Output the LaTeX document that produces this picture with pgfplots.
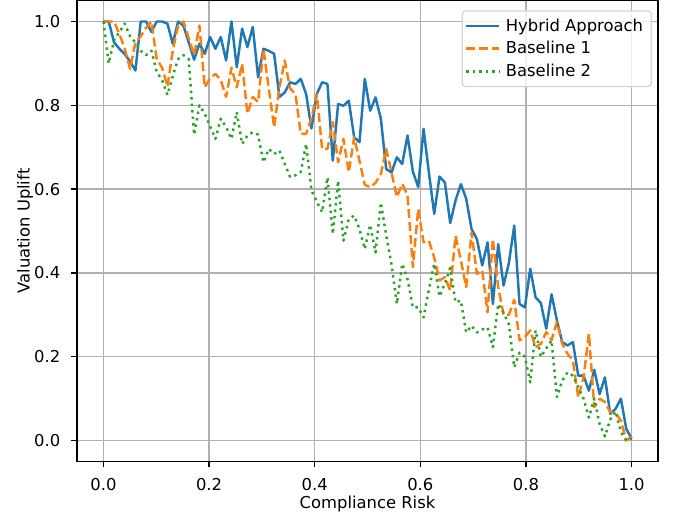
\documentclass[border=0pt]{standalone}
\usepackage{fontspec}
\setmainfont{DejaVu Sans}
\usepackage{pgfplots}
\usepackage{pgfplotstable}
\pgfplotsset{compat=1.18}

\definecolor{hybridblue}{HTML}{1F77B4}
\definecolor{baseorange}{HTML}{FF7F0E}
\definecolor{basegreen}{HTML}{2CA02C}
\definecolor{gridgray}{HTML}{B0B0B0}
\definecolor{legendedge}{HTML}{D5D5D5}

% compliance risk (x) against valuation uplift for the three methods
\pgfplotstableread{
x      hybrid  base1  base2
0.0000 1.000   1.000  1.000
0.0101 1.000   1.000  0.900
0.0202 0.950   1.000  0.955
0.0303 0.935   0.970  0.975
0.0404 0.922   0.935  0.995
0.0505 0.905   0.887  0.965
0.0606 0.883   0.950  0.950
0.0707 1.000   0.965  0.930
0.0808 1.000   0.985  0.920
0.0909 0.975   1.000  0.930
0.1010 1.000   0.910  0.880
0.1111 1.000   0.890  0.860
0.1212 0.995   0.845  0.825
0.1313 0.947   0.930  0.870
0.1414 1.000   0.990  0.910
0.1515 0.990   1.000  0.920
0.1616 0.950   0.960  0.910
0.1717 0.909   0.920  0.730
0.1818 0.947   0.990  0.800
0.1919 0.923   0.843  0.780
0.2020 0.963   0.865  0.750
0.2121 0.935   0.875  0.720
0.2222 0.963   0.860  0.768
0.2323 0.907   0.820  0.748
0.2424 1.000   0.890  0.720
0.2525 0.891   0.843  0.784
0.2626 0.983   0.899  0.708
0.2727 0.939   0.780  0.728
0.2828 0.987   0.820  0.736
0.2929 0.867   0.808  0.730
0.3030 0.935   0.935  0.664
0.3131 0.930   0.840  0.696
0.3232 0.923   0.748  0.684
0.3333 0.820   0.843  0.692
0.3434 0.831   0.907  0.660
0.3535 0.855   0.840  0.629
0.3636 0.851   0.827  0.633
0.3737 0.863   0.732  0.641
0.3838 0.827   0.732  0.708
0.3939 0.745   0.770  0.597
0.4040 0.827   0.827  0.570
0.4141 0.855   0.696  0.545
0.4242 0.851   0.696  0.628
0.4343 0.668   0.760  0.493
0.4444 0.803   0.664  0.620
0.4545 0.799   0.720  0.477
0.4646 0.811   0.640  0.529
0.4747 0.724   0.724  0.537
0.4848 0.712   0.668  0.505
0.4949 0.863   0.610  0.457
0.5051 0.787   0.605  0.515
0.5152 0.819   0.615  0.449
0.5253 0.768   0.636  0.568
0.5354 0.648   0.696  0.490
0.5455 0.640   0.640  0.420
0.5556 0.676   0.581  0.326
0.5657 0.660   0.613  0.422
0.5758 0.728   0.585  0.385
0.5859 0.642   0.414  0.318
0.5960 0.605   0.553  0.318
0.6061 0.744   0.473  0.294
0.6162 0.640   0.477  0.360
0.6263 0.541   0.437  0.422
0.6364 0.630   0.382  0.344
0.6465 0.616   0.390  0.375
0.6566 0.519   0.358  0.412
0.6667 0.573   0.489  0.330
0.6768 0.612   0.430  0.334
0.6869 0.577   0.366  0.258
0.6970 0.505   0.497  0.274
0.7071 0.481   0.398  0.258
0.7172 0.418   0.406  0.265
0.7273 0.473   0.306  0.270
0.7374 0.326   0.481  0.223
0.7475 0.469   0.366  0.326
0.7576 0.370   0.300  0.305
0.7677 0.424   0.300  0.278
0.7778 0.513   0.336  0.175
0.7879 0.326   0.239  0.210
0.7980 0.318   0.247  0.200
0.8081 0.410   0.263  0.139
0.8182 0.342   0.223  0.263
0.8283 0.328   0.231  0.200
0.8384 0.267   0.259  0.220
0.8485 0.349   0.240  0.239
0.8586 0.287   0.283  0.104
0.8687 0.235   0.231  0.143
0.8788 0.227   0.207  0.163
0.8889 0.235   0.191  0.155
0.8990 0.155   0.103  0.127
0.9091 0.155   0.151  0.100
0.9192 0.119   0.255  0.055
0.9293 0.169   0.080  0.100
0.9394 0.111   0.100  0.040
0.9495 0.151   0.092  0.010
0.9596 0.064   0.068  0.050
0.9697 0.076   0.065  0.070
0.9798 0.100   0.048  0.020
0.9899 0.028   0.000  0.000
1.0000 0.005   0.010  0.005
}\uplift

\begin{document}
\begin{tikzpicture}
\begin{axis}[
  at={(0,0)}, anchor=south west,
  scale only axis, width=418.32pt, height=331.92pt,
  xmin=-0.05, xmax=1.05, ymin=-0.05, ymax=1.05,
  xtick={0,0.2,0.4,0.6,0.8,1}, ytick={0,0.2,0.4,0.6,0.8,1},
  xtick pos=bottom, ytick pos=left,
  tick align=outside, major tick length=4.1pt,
  xticklabel shift=4.2pt, yticklabel shift=4.4pt,
  tick style={black, line width=0.94pt},
  axis line style={black, line width=0.94pt},
  grid=major, major grid style={gridgray, line width=0.94pt},
  /pgf/number format/.cd, fixed, fixed zerofill, precision=1, assume math mode=true,
  /pgfplots/.cd,
  tick label style={font=\fontsize{11.8}{14}\selectfont, text=black},
  label style={font=\fontsize{11.8}{14}\selectfont, text=black},
  xlabel={Compliance Risk}, ylabel={Valuation Uplift},
  xlabel style={at={(axis description cs:0.5,-0.091)}, anchor=center},
  ylabel style={at={(axis description cs:-0.0894,0.5)}, anchor=center},
  legend cell align=left,
  legend image code/.code={\draw[#1] (0pt,0pt) -- (23.6pt,0pt);},
  legend style={at={(axis description cs:1,1)}, anchor=north east,
    xshift=-4.3pt, yshift=-7pt, draw=legendedge, line width=0.94pt,
    rounded corners=2.5pt, fill=white, fill opacity=0.8, text opacity=1,
    font=\fontsize{11.8}{14}\selectfont, text=black,
    inner xsep=2pt, inner ysep=4pt, row sep=3pt,
    nodes={inner xsep=4pt, inner ysep=1.5pt}},
]
\addplot[hybridblue, line width=1.77pt, line join=round] table[x=x, y=hybrid] {\uplift};
\addlegendentry{Hybrid Approach}
\addplot[baseorange, line width=1.77pt, line join=round, dash pattern=on 6.55pt off 2.83pt] table[x=x, y=base1] {\uplift};
\addlegendentry{Baseline 1}
\addplot[basegreen, line width=1.77pt, line join=round, dash pattern=on 1.77pt off 2.92pt] table[x=x, y=base2] {\uplift};
\addlegendentry{Baseline 2}
\end{axis}
\pgfresetboundingbox
\useasboundingbox (-55.44pt,-41.04pt) rectangle (432.72pt,332.32pt);
\end{tikzpicture}
\end{document}
